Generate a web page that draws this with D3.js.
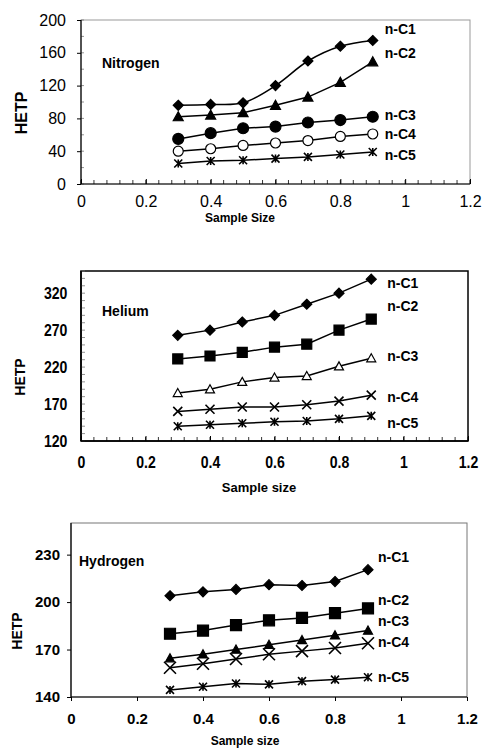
<!DOCTYPE html>
<html>
<head>
<meta charset="utf-8">
<script src="https://cdn.jsdelivr.net/npm/d3@7"></script>
<style>
  body { margin: 0; background: #fff; }
  text { font-family: Arial, "Liberation Sans", sans-serif; fill: #000; }
  .narrow { transform-box: fill-box; transform-origin: center; transform: scaleX(0.88); }
</style>
</head>
<body>
<div id="chart"></div>
<script>
// Data
const sampleSize = [0.3, 0.4, 0.5, 0.6, 0.7, 0.8, 0.9];
const seriesNames = ["n-C1", "n-C2", "n-C3", "n-C4", "n-C5"];
const xTicks = [0, 0.2, 0.4, 0.6, 0.8, 1, 1.2];

const nitrogenC1 = [96, 97, 99, 120, 150, 168, 175];
const nitrogenC2 = [82, 84, 87, 96, 106, 124, 149];
const nitrogenC3 = [55, 62, 68, 70, 75, 78, 82];
const nitrogenC4 = [40, 43, 47, 50, 53, 58, 61];
const nitrogenC5 = [25, 28, 29, 31, 33, 36, 39];
const nitrogenTicks = [0, 40, 80, 120, 160, 200];

const heliumC1 = [263, 270, 281, 290, 305, 320, 339];
const heliumC2 = [231, 235, 240, 247, 251, 270, 285];
const heliumC3 = [185, 190, 200, 206, 208, 221, 232];
const heliumC4 = [160, 163, 166, 166, 169, 174, 182];
const heliumC5 = [140, 142, 144, 146, 147, 150, 154];
const heliumTicks = [120, 170, 220, 270, 320];

const hydrogenC1 = [204, 206.5, 208, 211, 210.5, 213, 220.5];
const hydrogenC2 = [180, 182, 185.5, 188.5, 190, 193, 196];
const hydrogenC3 = [164.5, 167, 170, 173, 176, 179, 182];
const hydrogenC4 = [158.5, 161, 164, 167, 169, 171, 174];
const hydrogenC5 = [144.5, 146.5, 148.5, 148, 150, 151, 152.5];
const hydrogenTicks = [140, 170, 200, 230];

// marker paths centred on 0,0
function markerPath(type, s) {
  const h = s / 2;
  switch (type) {
    case "diamond": return `M0,${-h}L${h},0L0,${h}L${-h},0Z`;
    case "triangle": return `M0,${-h}L${h},${h*0.8}L${-h},${h*0.8}Z`;
    case "square": return `M${-h},${-h}H${h}V${h}H${-h}Z`;
    case "circle": return d3.arc()({innerRadius:0, outerRadius:h, startAngle:0, endAngle:2*Math.PI});
    case "x": return `M${-h},${-h}L${h},${h}M${h},${-h}L${-h},${h}`;
    case "star": return `M${-h},${-h}L${h},${h}M${h},${-h}L${-h},${h}M0,${-h}V${h}`;
  }
}

const panels = [
  {
    name: "Nitrogen", series: [nitrogenC1, nitrogenC2, nitrogenC3, nitrogenC4, nitrogenC5],
    yDomain: [0, 200], yTicks: nitrogenTicks, yMinor: d3.range(0, 201, 20), xMinor: d3.range(0, 1.2001, 0.04),
    left: 81, right: 470, top: 20, bottom: 184,
    frame: "#999", frameW: 1, bold: false, tickFont: 16, narrow: false,
    xIn: -5, xPad: 12, yOut: 4, yPad: 11, yMinorIn: 3,
    markers: [["diamond",10,"#000"],["triangle",10,"#000"],["circle",11,"#000"],["circle",10,"#fff"],["star",8,"none"]],
    smooth: [true, false, false, false, false],
    labelX: 12, labelDy: [-11, -9, -2, 0, 3], labelFont: 14,
    titleX: 102, titleDy: 63,
    yTitle: { x: 21, y: 113, size: 16 }, xTitle: { text: "Sample Size", x: 240, y: 222, size: 12 }
  },
  {
    name: "Helium", series: [heliumC1, heliumC2, heliumC3, heliumC4, heliumC5],
    yDomain: [120, 350], yTicks: heliumTicks, yMinor: d3.range(120, 351, 10), xMinor: d3.range(0, 1.2001, 0.04),
    left: 81, right: 468, top: 271, bottom: 441,
    frame: "#000", frameW: 1.5, bold: true, tickFont: 16, narrow: true,
    xIn: -5, xPad: 16, yOut: 0, yPad: 12, yMinorIn: 4,
    markers: [["diamond",10,"#000"],["square",10,"#000"],["triangle",9,"#fff"],["x",9,"none"],["star",8,"none"]],
    smooth: [false, false, false, false, false],
    labelX: 16, labelDy: [4, -13, -2, 2, 7], labelFont: 14,
    titleX: 102, titleDy: 310.7,
    yTitle: { x: 20, y: 377, size: 14 }, xTitle: { text: "Sample size", x: 259, y: 492, size: 13 }
  },
  {
    name: "Hydrogen", series: [hydrogenC1, hydrogenC2, hydrogenC3, hydrogenC4, hydrogenC5],
    yDomain: [140, 250], yTicks: hydrogenTicks, yMinor: [], xMinor: [],
    left: 71, right: 467, top: 523, bottom: 697,
    frame: "#777", frameW: 1, bold: true, tickFont: 15, narrow: false,
    xIn: 4, xPad: 13, yOut: 4, yPad: 7, yMinorIn: 0,
    markers: [["diamond",10,"#000"],["square",11,"#000"],["triangle",9,"#000"],["x",12,"none"],["star",8,"none"]],
    smooth: [false, false, false, false, false],
    labelX: 10, labelDy: [-13, -8, -9, -1, 0], labelFont: 14,
    titleX: 79, titleDy: 561,
    yTitle: { x: 17, y: 631, size: 14 }, xTitle: { text: "Sample size", x: 245, y: 745, size: 12 }
  }
];

const svg = d3.select("#chart").append("svg").attr("width", 482).attr("height", 750);

function drawPanel(p) {
  const x = d3.scaleLinear().domain([0, 1.2]).range([p.left, p.right]);
  const y = d3.scaleLinear().domain(p.yDomain).range([p.bottom, p.top]);
  const g = svg.append("g");

  // frame
  g.append("rect").attr("x", p.left).attr("y", p.top)
    .attr("width", p.right - p.left).attr("height", p.bottom - p.top)
    .attr("fill", "none").attr("stroke", p.frame).attr("stroke-width", p.frameW);

  // minor ticks
  g.selectAll(".xminor").data(p.xMinor).enter().append("line")
    .attr("x1", d => x(d)).attr("x2", d => x(d))
    .attr("y1", p.bottom).attr("y2", p.bottom - 4)
    .attr("stroke", "#000").attr("stroke-width", 0.8);
  g.selectAll(".yminor").data(p.yMinor).enter().append("line")
    .attr("x1", p.left).attr("x2", p.left + p.yMinorIn)
    .attr("y1", d => y(d)).attr("y2", d => y(d))
    .attr("stroke", "#777").attr("stroke-width", 0.8);

  // axes
  const xAxis = d3.axisBottom(x).tickValues(xTicks).tickFormat(d => d)
    .tickSizeInner(p.xIn).tickSizeOuter(0).tickPadding(p.xPad);
  const gx = g.append("g").attr("transform", `translate(0,${p.bottom})`).call(xAxis);
  const yAxis = d3.axisLeft(y).tickValues(p.yTicks).tickFormat(d => d)
    .tickSizeInner(p.yOut).tickSizeOuter(0).tickPadding(p.yPad);
  const gy = g.append("g").attr("transform", `translate(${p.left},0)`).call(yAxis);
  [gx, gy].forEach(a => {
    a.select(".domain").remove();
    a.selectAll("line").attr("stroke", "#000");
    a.selectAll("text")
      .style("font-size", p.tickFont + "px")
      .style("font-weight", p.bold ? "bold" : "normal")
      .style("font-family", "Arial, 'Liberation Sans', sans-serif")
      .classed("narrow", p.narrow);
  });
  gx.selectAll("text").attr("dy", "0.35em");
  gx.selectAll("text").attr("y", p.xPad + Math.max(p.xIn, 0) + 5);

  // axis lines
  g.append("line").attr("x1", p.left).attr("x2", p.left).attr("y1", p.top).attr("y2", p.bottom)
    .attr("stroke", "#000").attr("stroke-width", p.frameW > 1 ? 1.5 : 1.2);
  g.append("line").attr("x1", p.left).attr("x2", p.right).attr("y1", p.bottom).attr("y2", p.bottom)
    .attr("stroke", "#000").attr("stroke-width", p.frameW > 1 ? 1.5 : 1.2);

  // series
  p.series.forEach((vals, i) => {
    const pts = vals.map((v, j) => [sampleSize[j], v]);
    const line = d3.line().x(d => x(d[0])).y(d => y(d[1]))
      .curve(p.smooth[i] ? d3.curveCatmullRom.alpha(0.5) : d3.curveLinear);
    g.append("path").datum(pts).attr("d", line)
      .attr("fill", "none").attr("stroke", "#000").attr("stroke-width", 1.5);
    const [type, size, fill] = p.markers[i];
    g.selectAll(".m" + i).data(pts).enter().append("path")
      .attr("transform", d => `translate(${x(d[0])},${y(d[1])})`)
      .attr("d", markerPath(type, size))
      .attr("fill", fill).attr("stroke", "#000")
      .attr("stroke-width", (type === "x" || type === "star") ? 1.6 : 1.2);
    g.append("text")
      .attr("x", x(sampleSize[sampleSize.length - 1]) + p.labelX)
      .attr("y", y(vals[vals.length - 1]) + p.labelDy[i])
      .attr("dy", "0.35em")
      .style("font-size", p.labelFont + "px").style("font-weight", "bold")
      .text(seriesNames[i]);
  });

  // panel title and axis titles
  g.append("text").attr("x", p.titleX).attr("y", p.titleDy).attr("dy", "0.35em")
    .style("font-size", "14px").style("font-weight", "bold").text(p.name);
  g.append("text")
    .attr("transform", `translate(${p.yTitle.x},${p.yTitle.y}) rotate(-90)`)
    .attr("text-anchor", "middle").attr("dy", "0.35em")
    .style("font-size", p.yTitle.size + "px").style("font-weight", "bold").text("HETP");
  g.append("text").attr("x", p.xTitle.x).attr("y", p.xTitle.y)
    .attr("text-anchor", "middle")
    .style("font-size", p.xTitle.size + "px").style("font-weight", "bold").text(p.xTitle.text);
}

panels.forEach(drawPanel);
</script>
</body>
</html>
